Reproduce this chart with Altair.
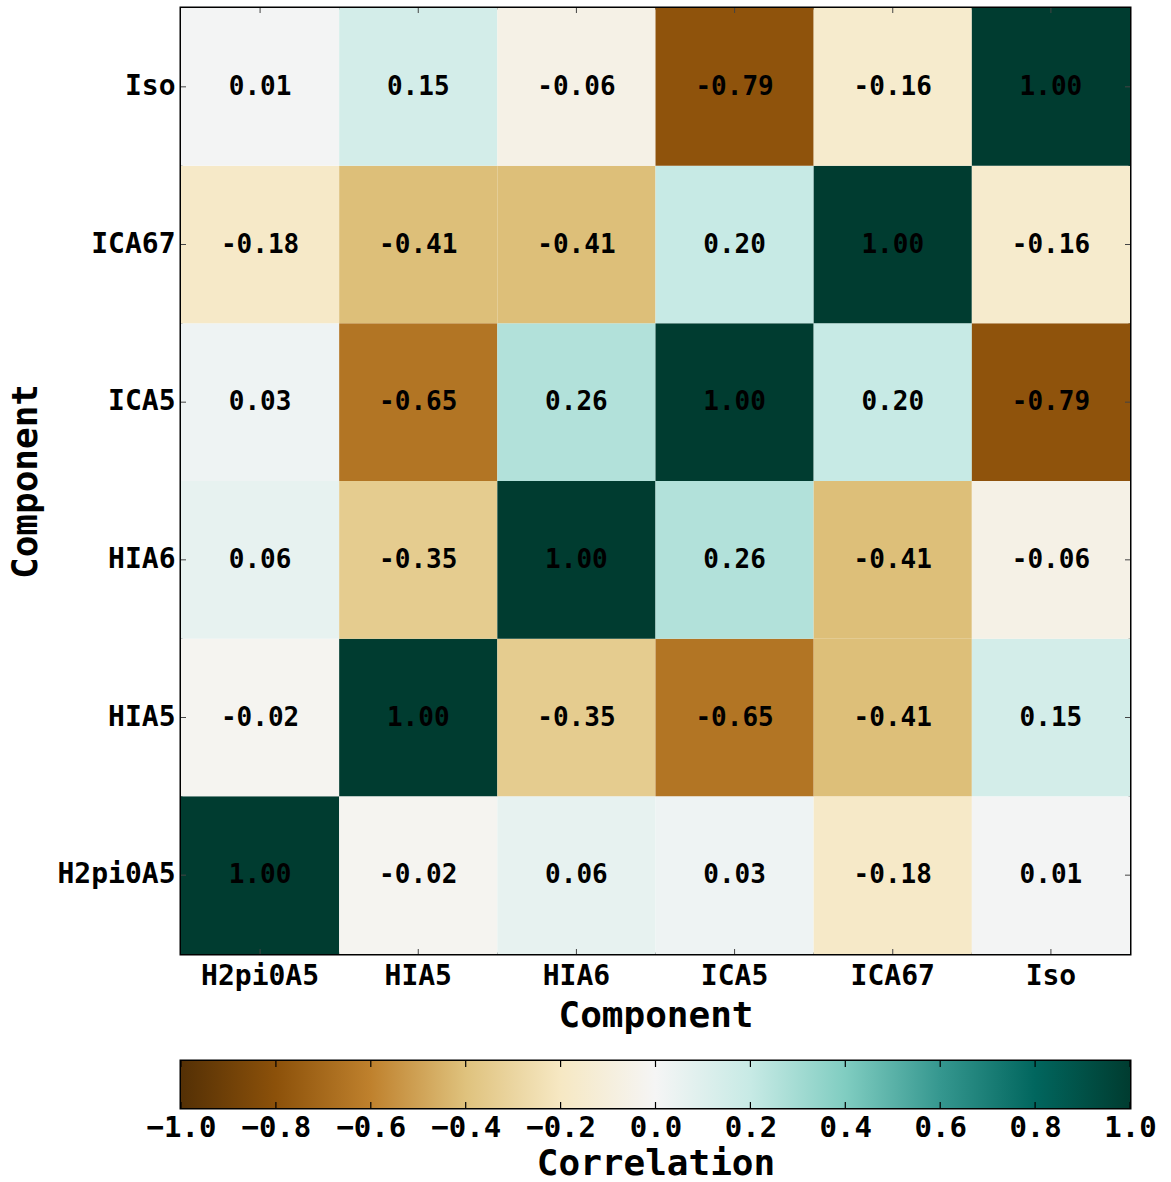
import altair as alt
import pandas as pd

components = ["H2pi0A5", "HIA5", "HIA6", "ICA5", "ICA67", "Iso"]
corr = [
    [1.00, -0.02, 0.06, 0.03, -0.18, 0.01],
    [-0.02, 1.00, -0.35, -0.65, -0.41, 0.15],
    [0.06, -0.35, 1.00, 0.26, -0.41, -0.06],
    [0.03, -0.65, 0.26, 1.00, 0.20, -0.79],
    [-0.18, -0.41, -0.41, 0.20, 1.00, -0.16],
    [0.01, 0.15, -0.06, -0.79, -0.16, 1.00],
]
brbg_domain = [-1.0, -0.8, -0.6, -0.4, -0.2, 0.0, 0.2, 0.4, 0.6, 0.8, 1.0]
brbg_colors = ["#543005", "#8c510a", "#bf812d", "#dfc27d", "#f6e8c3", "#f5f5f5",
               "#c7eae5", "#80cdc1", "#35978f", "#01665e", "#003c30"]
colorbar_ticks = [-1.0, -0.8, -0.6, -0.4, -0.2, 0.0, 0.2, 0.4, 0.6, 0.8, 1.0]

rows = []
for i, yc in enumerate(components):
    for j, xc in enumerate(components):
        v = corr[i][j]
        rows.append({"xc": xc, "yc": yc, "value": v, "label": f"{v:.2f}"})
df = pd.DataFrame(rows)
comp_df = pd.DataFrame({"c": components})

MONO = "DejaVu Sans Mono"
W, H = 949, 946

x_enc = alt.X("xc:N", sort=components, title="Component",
              scale=alt.Scale(paddingInner=0, paddingOuter=0),
              axis=alt.Axis(labelAngle=0, labelPadding=8, titlePadding=8))
y_enc = alt.Y("yc:N", sort=components[::-1], title="Component",
              scale=alt.Scale(paddingInner=0, paddingOuter=0),
              axis=alt.Axis(labelPadding=6, titlePadding=12))

base = alt.Chart(df).encode(x=x_enc, y=y_enc)

rects = base.mark_rect().encode(
    color=alt.Color(
        "value:Q",
        scale=alt.Scale(domain=brbg_domain, range=brbg_colors, interpolate="rgb"),
        legend=None,
    )
)

texts = base.mark_text(font=MONO, fontSize=26, fontWeight="bold", color="black").encode(
    text="label:N"
)

tick_style = dict(color="#444444", strokeWidth=1)
xt = alt.Chart(comp_df).transform_calculate(xc="datum.c")
yt = alt.Chart(comp_df).transform_calculate(yc="datum.c")
hm_ticks = [
    xt.mark_rule(**tick_style).encode(x=x_enc, y=alt.value(0), y2=alt.value(5)),
    xt.mark_rule(**tick_style).encode(x=x_enc, y=alt.value(H - 5), y2=alt.value(H)),
    yt.mark_rule(**tick_style).encode(y=y_enc, x=alt.value(0), x2=alt.value(5)),
    yt.mark_rule(**tick_style).encode(y=y_enc, x=alt.value(W - 5), x2=alt.value(W)),
]

heatmap = alt.layer(rects, texts, *hm_ticks).properties(width=W, height=H)

# Colorbar
gradient = alt.LinearGradient(
    gradient="linear",
    stops=[alt.GradientStop(offset=(d + 1) / 2, color=c) for d, c in zip(brbg_domain, brbg_colors)],
    x1=0, x2=1, y1=0, y2=0,
)
bar_df = pd.DataFrame({"lo": [brbg_domain[0]], "hi": [brbg_domain[-1]]})
tick_df = pd.DataFrame({"t": colorbar_ticks})

cb_x = alt.X("lo:Q", scale=alt.Scale(domain=[-1, 1], nice=False, zero=False),
             title="Correlation",
             axis=alt.Axis(values=colorbar_ticks, format=".1f", labelFontSize=29,
                           labelPadding=5, titlePadding=4, titleFontSize=36,
                           labelOverlap=False, labelFlush=False))
cbar = alt.Chart(bar_df).mark_rect(fill=gradient).encode(x=cb_x, x2="hi:Q")
tick_top = alt.Chart(tick_df).mark_rule(color="black", strokeWidth=1.2).encode(
    x=alt.X("t:Q"), y=alt.value(0), y2=alt.value(6))
tick_bot = alt.Chart(tick_df).mark_rule(color="black", strokeWidth=1.2).encode(
    x=alt.X("t:Q"), y=alt.value(41), y2=alt.value(47))
colorbar = alt.layer(cbar, tick_top, tick_bot).properties(width=W, height=47)

chart = (
    alt.vconcat(heatmap, colorbar, spacing=107, bounds="flush")
    .properties(
        padding={"left": 6, "top": 6, "right": 5, "bottom": 5},
        background="white",
    )
    .configure_view(stroke="black", strokeWidth=3)
    .configure_axis(
        labelFont=MONO, labelFontSize=28, labelFontWeight="bold", labelColor="black",
        titleFont=MONO, titleFontSize=36, titleFontWeight="bold", titleColor="black",
        ticks=False, domain=False, grid=False,
    )
)

chart.save("out.html", embed_options={"renderer": "svg", "actions": False})
